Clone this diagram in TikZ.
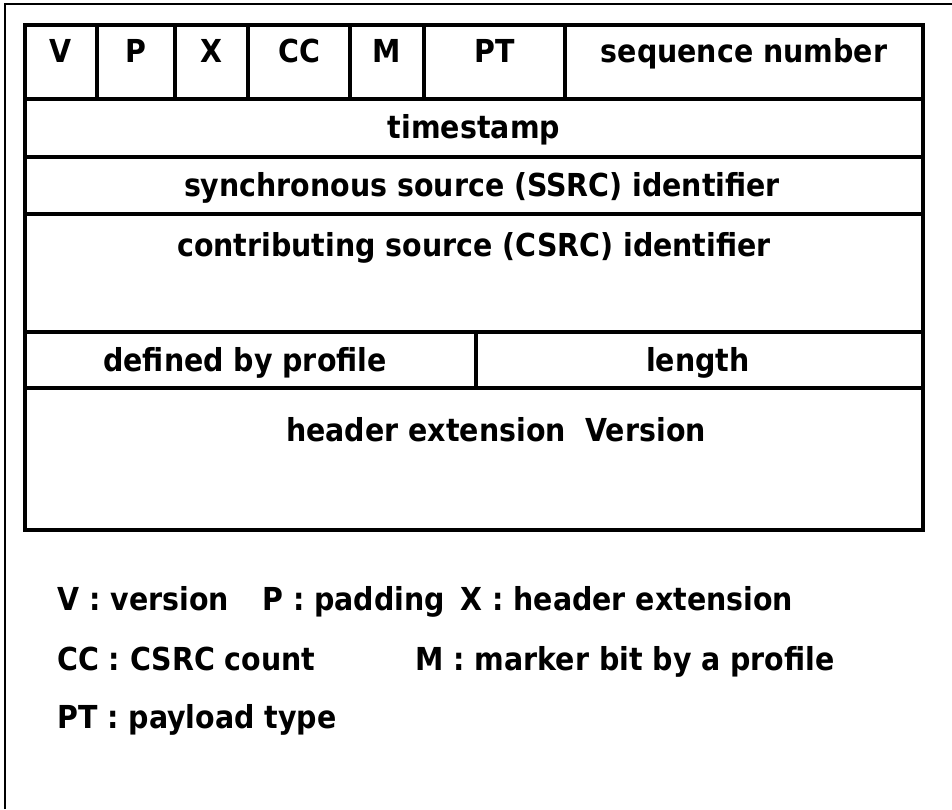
\documentclass[tikz,border=0pt]{standalone}
\usepackage{fontspec}
\setmainfont{DejaVu Sans Condensed}
\usepackage{tikz}

\begin{document}
\begin{tikzpicture}[x=0.02cm, y=-0.02cm,
	grid line/.style={line width=2pt},
	frame line/.style={line width=0.8pt},
	field/.style={inner sep=0pt, anchor=base, font=\fontsize{18}{20}\selectfont\bfseries},
	key/.style={field, anchor=base west}]

	\useasboundingbox (0,0) rectangle (952,809);

	% outer frame (left and top only)
	\draw[frame line] (5,809) -- (5,4) -- (952,4);

	% header table
	\draw[grid line] (25,25) rectangle (923,530);
	\foreach \y in {99,157,214,332,388}
	  \draw[grid line] (25,\y) -- (923,\y);
	\foreach \x in {97,175,248,350,424,565}
	  \draw[grid line] (\x,25) -- (\x,99);
	\draw[grid line] (476,332) -- (476,388);

	\node[field] (v)   at (61,62)  {V};
	\node[field] (p)   at (136,62) {P};
	\node[field] (x)   at (211,62) {X};
	\node[field] (cc)  at (299,62) {CC};
	\node[field] (m)   at (387,62) {M};
	\node[field] (pt)  at (495,62) {PT};
	\node[field] (seq) at (744,62) {sequence number};
	\node[field] (ts)  at (474,138) {timestamp};
	\node[field] (ssrc) at (482,196) {synchronous source (SSRC) identifier};
	\node[field] (csrc) at (474,256) {contributing source (CSRC) identifier};
	\node[field] (prof) at (245,371) {defined by profile};
	\node[field] (len)  at (698,371) {length};
	\node[field] (ext)  at (496,441) {header extension\ \ Version};

	% legend
	\node[key] (kv)  at (57,610)  {V : version};
	\node[key] (kp)  at (262,610) {P : padding};
	\node[key] (kx)  at (460,610) {X : header extension};
	\node[key] (kcc) at (57,670)  {CC : CSRC count};
	\node[key] (km)  at (415,670) {M : marker bit by a profile};
	\node[key] (kpt) at (57,728)  {PT : payload type};

\end{tikzpicture}
\end{document}
